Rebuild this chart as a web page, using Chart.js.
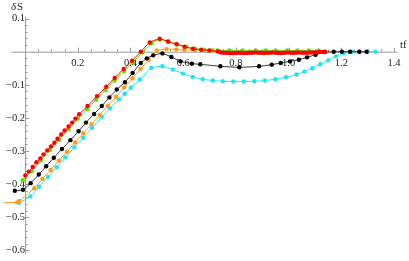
<!DOCTYPE html>
<html>
<head>
<meta charset="utf-8">
<script src="https://cdn.jsdelivr.net/npm/chart.js@4.4.0/dist/chart.umd.min.js"></script>
<style>
  html, body { margin: 0; padding: 0; background: #fff; }
  #wrap { width: 409px; height: 261px; }
</style>
</head>
<body>
<div id="wrap"><canvas id="plot" width="409" height="261"></canvas></div>
<script>
// tick labels
var xTicks = [0.2, 0.4, 0.6, 0.8, 1.0, 1.2, 1.4]
var yTicks = [0.1, -0.1, -0.2, -0.3, -0.4, -0.5, -0.6]

// red series
var redX = [0.001, 0.014, 0.029, 0.043, 0.058, 0.070, 0.084, 0.098, 0.111, 0.123, 0.137, 0.150, 0.165, 0.179, 0.191, 0.205,
  0.237, 0.273, 0.308, 0.340, 0.374, 0.406, 0.439, 0.473, 0.511, 0.542, 0.574, 0.605, 0.637, 0.668, 0.699, 0.731,
  0.742, 0.753, 0.764, 0.775, 0.786, 0.797, 0.808, 0.819, 0.830, 0.841, 0.852, 0.863, 0.874, 0.885, 0.896, 0.907,
  0.918, 0.929, 0.940, 0.951, 0.962, 0.973, 0.984, 0.995, 1.006, 1.017, 1.028, 1.039, 1.050, 1.061, 1.072, 1.083,
  1.094, 1.105, 1.116, 1.127, 1.138]
var redY = [-0.374, -0.362, -0.348, -0.334, -0.322, -0.310, -0.298, -0.286, -0.275, -0.263, -0.250, -0.238, -0.226, -0.214, -0.202, -0.189,
  -0.164, -0.134, -0.106, -0.079, -0.052, -0.027, 0.000, 0.028, 0.039, 0.031, 0.023, 0.015, 0.009, 0.006, 0.004, 0.001,
  -0.002, -0.003, -0.003, -0.004, -0.004, -0.004, -0.003, -0.003, -0.004, -0.004, -0.003, -0.003, -0.002, -0.003, -0.003, -0.004,
  -0.003, -0.003, -0.002, -0.003, -0.003, -0.004, -0.003, -0.002, -0.003, -0.003, -0.003, -0.002, -0.003, -0.003, -0.003, -0.002,
  -0.002, -0.002, -0.001, -0.001, 0.000]

// green series
var greenX = [-0.009, 0.025, 0.060, 0.095, 0.130, 0.165, 0.200, 0.235, 0.270, 0.305, 0.340, 0.375, 0.410, 0.445, 0.479, 0.511,
  0.545, 0.578, 0.612, 0.645, 0.680, 0.712, 0.731, 0.775, 0.825, 0.875, 0.913, 0.951, 0.995, 1.033, 1.077, 1.114]
var greenY = [-0.388, -0.360, -0.328, -0.297, -0.266, -0.234, -0.202, -0.174, -0.145, -0.116, -0.087, -0.059, -0.031, -0.002, 0.025, 0.037,
  0.030, 0.022, 0.015, 0.009, 0.006, 0.004, 0.004, 0.004, 0.004, 0.004, 0.004, 0.004, 0.004, 0.004, 0.004, 0.004]

// black series
var blackX = [-0.039, -0.008, 0.021, 0.052, 0.080, 0.109, 0.140, 0.172, 0.203, 0.231, 0.262, 0.291, 0.320, 0.348, 0.379, 0.408,
  0.439, 0.462, 0.486, 0.521, 0.555, 0.590, 0.633, 0.665, 0.741, 0.813, 0.888, 0.936, 0.970, 1.005, 1.039, 1.070,
  1.102, 1.137, 1.171, 1.202, 1.233, 1.268, 1.296]
var blackY = [-0.420, -0.417, -0.397, -0.371, -0.346, -0.320, -0.294, -0.267, -0.240, -0.214, -0.188, -0.164, -0.138, -0.114, -0.092, -0.064,
  -0.034, -0.020, -0.011, -0.005, -0.016, -0.029, -0.036, -0.038, -0.044, -0.047, -0.044, -0.039, -0.034, -0.029, -0.024, -0.017,
  -0.009, -0.001, 0.000, 0.000, 0.000, 0.000, 0.000]

// orange series
var orangeX = [-0.09, -0.030, -0.022, 0.035, 0.066, 0.097, 0.128, 0.159, 0.190, 0.221, 0.252, 0.283, 0.314, 0.345, 0.376, 0.407,
  0.438, 0.469, 0.500, 0.536, 0.574, 0.605, 0.643, 0.674, 0.706, 0.740, 0.780]
var orangeY = [-0.455, -0.455, -0.451, -0.412, -0.384, -0.357, -0.329, -0.302, -0.274, -0.246, -0.219, -0.191, -0.164, -0.136, -0.108, -0.080,
  -0.052, -0.024, 0.004, 0.008, 0.007, 0.005, 0.005, 0.005, 0.003, 0.001, 0.000]

// cyan series
var cyanX = [-0.022, 0.020, 0.053, 0.087, 0.120, 0.153, 0.187, 0.220, 0.254, 0.291, 0.322, 0.356, 0.378, 0.401, 0.435, 0.479,
  0.521, 0.561, 0.599, 0.636, 0.674, 0.712, 0.750, 0.790, 0.830, 0.870, 0.910, 0.950, 0.990, 1.030, 1.060, 1.090,
  1.120, 1.150, 1.180, 1.210, 1.240, 1.270, 1.300, 1.330]
var cyanY = [-0.456, -0.437, -0.408, -0.378, -0.349, -0.319, -0.289, -0.260, -0.230, -0.197, -0.171, -0.144, -0.127, -0.109, -0.084, -0.049,
  -0.044, -0.054, -0.066, -0.076, -0.083, -0.087, -0.089, -0.090, -0.090, -0.089, -0.087, -0.083, -0.077, -0.069, -0.060, -0.050,
  -0.038, -0.026, -0.014, -0.004, 0.000, 0.000, 0.000, 0.000]

function pts(xs, ys) {
  return xs.map(function (x, i) { return { x: x, y: ys[i] } })
}

function series(xs, ys, col, lineCol) {
  return {
    data: pts(xs, ys),
    showLine: true,
    borderColor: lineCol,
    backgroundColor: col,
    borderWidth: 1,
    pointRadius: 2.2,
    pointBorderWidth: 0,
    pointBackgroundColor: col,
    tension: 0.2
  }
}

var serifFont = '"Liberation Serif", "DejaVu Serif", serif'

// axes, minor ticks and axis names like the Mathematica frame-less axes
var axesPlugin = {
  id: 'axes',
  beforeDatasetsDraw: function (chart) {
    var ctx = chart.ctx
    var xs = chart.scales.x, ys = chart.scales.y
    var x0 = xs.getPixelForValue(0), y0 = ys.getPixelForValue(0)
    ctx.save()
    ctx.strokeStyle = '#999'
    ctx.lineWidth = 1
    ctx.beginPath()
    ctx.moveTo(xs.getPixelForValue(-0.052), y0 + 0.5)
    ctx.lineTo(xs.getPixelForValue(1.412), y0 + 0.5)
    ctx.moveTo(x0 + 0.5, ys.getPixelForValue(0.105))
    ctx.lineTo(x0 + 0.5, ys.getPixelForValue(-0.61))
    // x ticks
    for (var i = 1; i <= 28; i++) {
      var px = Math.round(xs.getPixelForValue(i * 0.05)) + 0.5
      var len = (i % 4 === 0) ? 4 : 2.5
      ctx.moveTo(px, y0)
      ctx.lineTo(px, y0 - len)
    }
    // y ticks
    for (var j = -30; j <= 5; j++) {
      if (j === 0) continue
      var py = Math.round(ys.getPixelForValue(j * 0.02)) + 0.5
      var l2 = (j % 5 === 0) ? 4 : 2.5
      ctx.moveTo(x0, py)
      ctx.lineTo(x0 + l2, py)
    }
    ctx.stroke()

    ctx.fillStyle = '#222'
    ctx.font = 'italic 11px ' + serifFont
    ctx.textBaseline = 'middle'
    ctx.textAlign = 'left'
    ctx.fillText('δ', 11, 7)
    ctx.font = '11px ' + serifFont
    ctx.fillText('S', 17, 7)
    ctx.fillText('tf', 400, 45)
    ctx.restore()
  }
}

var ctx = document.getElementById('plot').getContext('2d')
var chart = new Chart(ctx, {
  type: 'scatter',
  data: {
    datasets: [
      series(redX, redY, '#ff0000', '#ff0000'),
      series(greenX, greenY, '#5ce000', '#5ce000'),
      series(blackX, blackY, '#000000', '#333333'),
      series(orangeX, orangeY, '#ff9a1a', '#ff9a1a'),
      series(cyanX, cyanY, '#1fe5f0', '#1fe5f0')
    ]
  },
  options: {
    responsive: false,
    animation: false,
    devicePixelRatio: 1,
    layout: { padding: { left: 1.8, right: 9.7, top: 12, bottom: 2.3 } },
    plugins: { legend: { display: false }, tooltip: { enabled: false } },
    scales: {
      x: {
        type: 'linear',
        min: -0.08,
        max: 1.42,
        position: { y: 0 },
        grid: { display: false, drawTicks: false },
        border: { display: false },
        afterBuildTicks: function (s) { s.ticks = xTicks.map(function (v) { return { value: v } }) },
        afterFit: function (s) { s.paddingLeft = 0; s.paddingRight = 0; s.paddingTop = 0; s.paddingBottom = 0 },
        ticks: {
          autoSkip: false,
          maxRotation: 0,
          padding: 5,
          color: '#222',
          font: { family: serifFont, size: 10.5 },
          callback: function (v) { return v.toFixed(1) }
        }
      },
      y: {
        type: 'linear',
        min: -0.62,
        max: 0.12,
        position: { x: 0 },
        grid: { display: false, drawTicks: false },
        border: { display: false },
        afterBuildTicks: function (s) { s.ticks = yTicks.map(function (v) { return { value: v } }) },
        afterFit: function (s) { s.paddingLeft = 0; s.paddingRight = 0; s.paddingTop = 0; s.paddingBottom = 0 },
        ticks: {
          autoSkip: false,
          padding: 5,
          color: '#222',
          font: { family: serifFont, size: 10.5 },
          callback: function (v) { return (v < 0 ? '\u2212' : '') + Math.abs(v).toFixed(1) }
        }
      }
    }
  },
  plugins: [axesPlugin]
})
</script>
</body>
</html>
